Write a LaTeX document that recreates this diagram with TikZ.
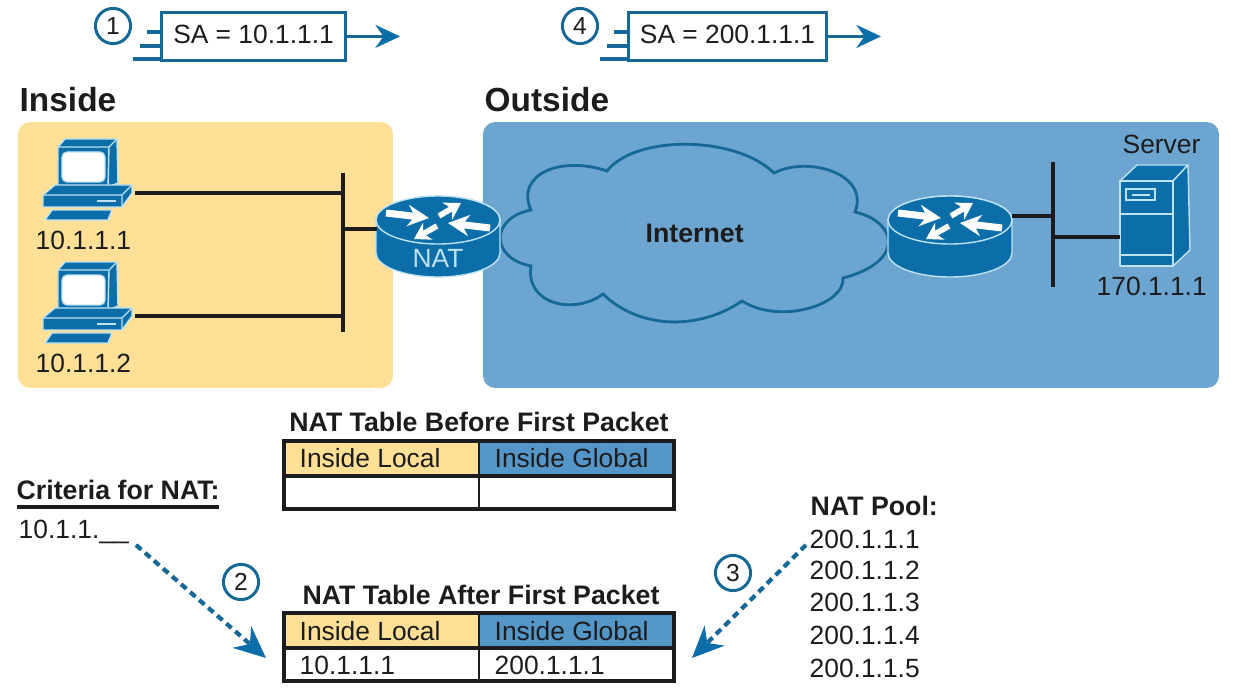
\documentclass[tikz,border=0pt]{standalone}
\usepackage{fontspec}
\setmainfont{Liberation Sans}
\usetikzlibrary{arrows.meta,positioning,calc}
\definecolor{insidefill}{RGB}{255,224,150}
\definecolor{outsidefill}{RGB}{108,165,207}
\definecolor{headblue}{RGB}{84,150,200}
\definecolor{iconblue}{RGB}{11,110,168}
\definecolor{iconrim}{RGB}{190,226,242}
\definecolor{edgeblue}{RGB}{22,104,150}
\definecolor{inkdark}{RGB}{28,28,30}

\begin{document}
\begin{tikzpicture}[x=0.01cm,y=-0.01cm,>=stealth,
    every node/.style={font=\fontsize{7.5}{9}\selectfont,inner sep=0pt,text=inkdark},
    txt/.style={anchor=base west},
    boldtxt/.style={anchor=base west,font=\fontsize{7.6}{9}\selectfont\bfseries},
    headtxt/.style={anchor=base west,font=\fontsize{9.5}{11}\selectfont\bfseries},
    callout/.style={circle,draw=edgeblue,line width=0.85pt,minimum size=10pt,font=\fontsize{7}{9}\selectfont},
    packetbox/.style={draw=edgeblue,line width=0.85pt,fill=white,minimum height=13.6pt},
    packetline/.style={edgeblue,line width=1pt},
    wire/.style={line width=0.9pt,draw=inkdark},
    pointer/.style={edgeblue,line width=1.2pt,dash pattern=on 2pt off 1.4pt,
      -{Stealth[length=9pt,width=8pt,color=iconblue]}},
    iconpart/.style={fill=iconblue,draw=iconrim,line width=0.4pt,line join=round}]

  \useasboundingbox (0,0) rectangle (1253,700);

  % zones
  \fill[insidefill,rounded corners=3.5pt] (18,122) rectangle (393,388);
  \fill[outsidefill,rounded corners=3.5pt] (483,122) rectangle (1219,388);
  \node[headtxt] (insidelbl) at (19,112) {Inside};
  \node[headtxt] (outsidelbl) at (484,112) {Outside};

  % packets
  \foreach \pk/\pl/\pw/\ptxt/\pn in {pktA/160/184/10.1.1.1/1,pktB/627/198/200.1.1.1/4}{
    \draw[packetline] (\pl-13,32) -- (\pl,32);
    \draw[packetline] (\pl-20,46) -- (\pl,46);
    \draw[packetline] (\pl-27,59) -- (\pl,59);
    \node[packetbox,minimum width=\pw*0.2845pt,anchor=north west] (\pk) at (\pl,11) {};
    \node[anchor=base] (\pk txt) at ($(\pk.north)+(0,33)$) {SA = \ptxt};
    \node[callout] (\pk num) at (\pl-47,26) {\pn};
    \coordinate (\pk end) at ($(\pk.east)+(53,0)$);
    \draw[packetline,-{Stealth[length=7pt,width=6.5pt,color=iconblue]}] (\pk.east) -- (\pk end);
  }

  % hosts
  \foreach \py/\pc/\paddr in {0/pcA/10.1.1.1,123/pcB/10.1.1.2}{
    \begin{scope}[shift={(0,\py)}]
      \filldraw[iconpart] (52,210) -- (112,210) -- (108,220) -- (45,220) -- cycle;
      \filldraw[iconpart] (58,147) -- (65,139) -- (117,139) -- (118,183) -- (108,187) -- (58,187) -- cycle;
      \draw[iconrim,line width=0.4pt] (58,147) -- (109,147) -- (117,139) (109,147) -- (108,187);
      \filldraw[fill=white,draw=iconrim,rounded corners=1.5pt] (62,152) rectangle (105,182);
      \filldraw[iconpart] (43,195) -- (55,185) -- (132,185) -- (132,193) -- (122,207) -- (43,207) -- cycle;
      \draw[iconrim,line width=0.4pt] (43,195) -- (122,195) -- (132,185) (122,195) -- (122,207);
      \draw[iconrim,line width=0.7pt] (97,201) -- (116,201);
    \end{scope}
    \coordinate (\pc) at (135,193+\py);
    \node[txt] (\pc addr) at (35,250+\py) {\paddr};
  }

  % server
  \filldraw[iconpart] (1120,181) -- (1137,165) -- (1188,165) -- (1173,181) -- cycle;
  \filldraw[iconpart] (1173,181) -- (1188,165) -- (1190,250) -- (1173,266) -- cycle;
  \filldraw[iconpart] (1120,181) rectangle (1173,266);
  \draw[iconrim,line width=0.5pt] (1120,214) -- (1173,214) (1120,255) -- (1173,255);
  \draw[iconrim,line width=0.5pt] (1126,189) rectangle (1155,200);
  \draw[iconrim,line width=0.7pt] (1132,195) -- (1150,195);
  \node[txt] (srvname) at (1122,153) {Server};
  \node[txt] (srvaddr) at (1096,295) {170.1.1.1};

  % cloud
  \draw[edgeblue,line width=0.8pt,fill=outsidefill]
    (531,210) .. controls (515,175) and (560,155) .. (607,171)
    .. controls (635,135) and (735,135) .. (774,173)
    .. controls (810,155) and (870,175) .. (855,212)
    .. controls (898,222) and (905,262) .. (843,278)
    .. controls (845,305) and (780,325) .. (742,301)
    .. controls (700,330) and (640,330) .. (603,294)
    .. controls (575,315) and (525,305) .. (531,266)
    .. controls (490,258) and (490,218) .. cycle;
  \node[boldtxt] (inetlbl) at (645,242) {Internet};

  % routers
  \foreach \rx/\rt/\rn in {438/{NAT}/natrt,950/{}/edgert}{
    \begin{scope}[shift={(\rx,220)}]
      \filldraw[iconpart] (-62,0) -- (-62,33) arc[start angle=180,end angle=0,x radius=62,y radius=24]
        -- (62,0) arc[start angle=0,end angle=-180,x radius=62,y radius=24] -- cycle;
      \filldraw[iconpart] (0,0) ellipse[x radius=62,y radius=24];
      \draw[white,line width=2pt,-{Stealth[length=6pt,width=6pt]}] (-52,-7) -- (-9,-2);
      \draw[white,line width=1.6pt,-{Stealth[length=4.5pt,width=5.5pt]}] (1,-4) -- (23,-17);
      \draw[white,line width=2pt,-{Stealth[length=6pt,width=6pt]}] (52,8) -- (10,3);
      \draw[white,line width=1.6pt,-{Stealth[length=4.5pt,width=5.5pt]}] (-1,6) -- (-24,19);
      \node[anchor=base,text=iconrim] (\rn) at (0,48) {\rt};
    \end{scope}
  }

  % lan wires
  \coordinate (natport) at (377,229);
  \coordinate (edgeport) at (1012,216);
  \coordinate (srvport) at (1120,237);
  \coordinate (busAtop) at (343,173);
  \coordinate (busAend) at (343,332);
  \coordinate (busBtop) at (1053,162);
  \coordinate (busBend) at (1053,287);
  \draw[wire] (busAtop) -- (busAend);
  \draw[wire] (pcA) -- (pcA -| busAtop);
  \draw[wire] (pcB) -- (pcB -| busAtop);
  \draw[wire] (natport) -- (natport -| busAtop);
  \draw[wire] (busBtop) -- (busBend);
  \draw[wire] (edgeport) -- (edgeport -| busBtop);
  \draw[wire] (srvport) -- (srvport -| busBtop);

  % tables
  \foreach \ty/\tn/\ttl/\tc/\tl/\tg in {441/tblA/Before/479/{}/{},613/tblB/After/481/10.1.1.1/200.1.1.1}{
    \fill[insidefill] (284,\ty) rectangle (479,\ty+35);
    \fill[headblue] (479,\ty) rectangle (674,\ty+35);
    \draw[wire] (284,\ty) rectangle (674,\ty+68);
    \draw[wire] (284,\ty+35) -- (674,\ty+35);
    \draw[wire,line width=0.7pt] (479,\ty) -- (479,\ty+68);
    \node[anchor=base,font=\fontsize{7.6}{9}\selectfont\bfseries] (\tn ttl) at (\tc,\ty-9) {NAT Table \ttl{} First Packet};
    \node[txt] (\tn loc) at (299,\ty+27) {Inside Local};
    \node[txt] (\tn glob) at (494,\ty+27) {Inside Global};
    \node[txt] (\tn lval) at (299,\ty+62) {\tl};
    \node[txt] (\tn gval) at (494,\ty+62) {\tg};
  }

  % criteria and pool
  \node[boldtxt] (critlbl) at (16,499) {Criteria for NAT:};
  \coordinate (critA) at (17,507);
  \coordinate (critB) at (219,507);
  \draw[wire] (critA) -- (critB);
  \node[txt] (critval) at (18,538) {10.1.1.\_\_};
  \node[boldtxt] (poollbl) at (810,515) {NAT Pool:};
  \foreach \vy/\vn in {548/1,580/2,612/3,644/4,677/5}{
    \node[txt] (pool\vn) at (809,\vy) {200.1.1.\vn};
  }

  % steps 2 and 3
  \coordinate (critout) at (136,545);
  \coordinate (critin) at (266,658);
  \coordinate (poolout) at (806,545);
  \coordinate (poolin) at (692,658);
  \draw[pointer] (critout) -- (critin);
  \draw[pointer] (poolout) -- (poolin);
  \node[callout] (numtwo) at (241,582) {2};
  \node[callout] (numthree) at (733,573) {3};
\end{tikzpicture}
\end{document}
